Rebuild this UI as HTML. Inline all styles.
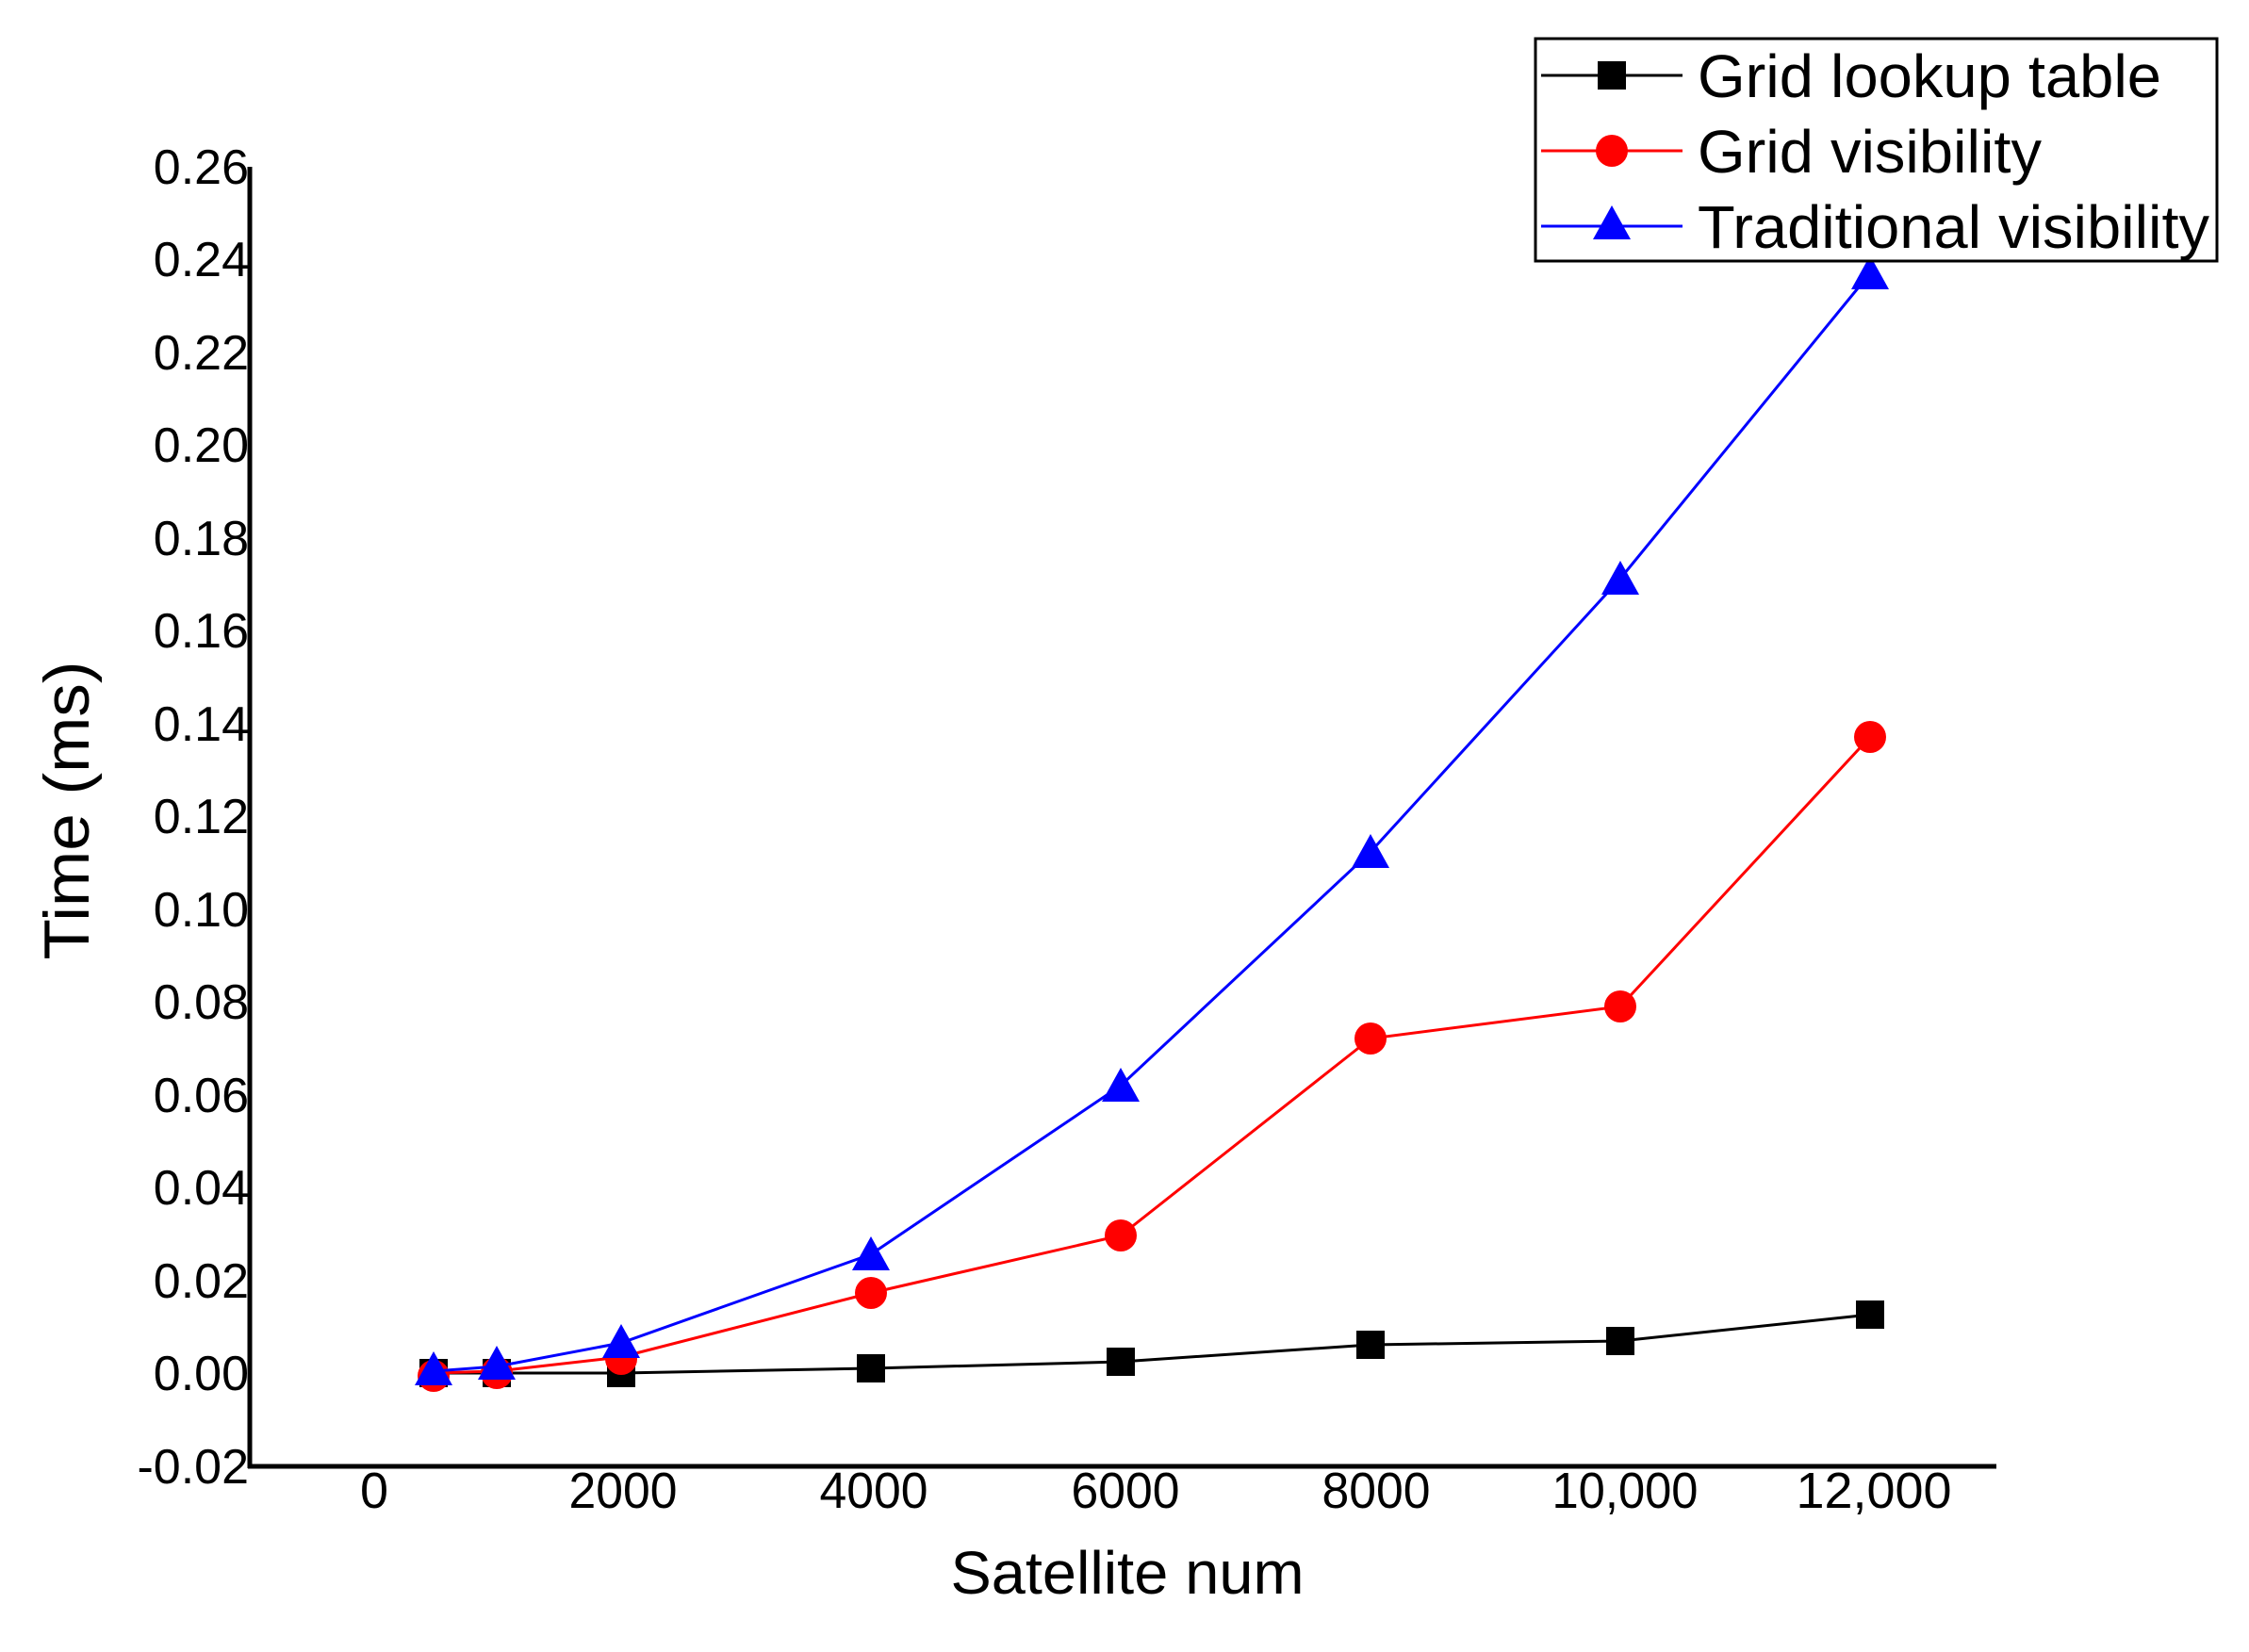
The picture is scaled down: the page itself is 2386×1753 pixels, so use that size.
<!DOCTYPE html>
<html><head><meta charset="utf-8"><style>
html,body{margin:0;padding:0;background:#fff;}
svg{display:block;}
text{font-family:"Liberation Sans",Arial,sans-serif;fill:#000;}
</style></head><body>
<svg width="2386" height="1753" viewBox="0 0 2386 1753" xmlns="http://www.w3.org/2000/svg">
<rect width="2386" height="1753" fill="#fff"/>
<!-- axes -->
<line x1="265" y1="177" x2="265" y2="1558" stroke="#000" stroke-width="5"/>
<line x1="263" y1="1556" x2="2118" y2="1556" stroke="#000" stroke-width="5"/>
<!-- y ticks labels -->
<g font-size="52" text-anchor="end">
<text x="264" y="195">0.26</text>
<text x="264" y="293">0.24</text>
<text x="264" y="392">0.22</text>
<text x="264" y="490">0.20</text>
<text x="264" y="589">0.18</text>
<text x="264" y="687">0.16</text>
<text x="264" y="786">0.14</text>
<text x="264" y="884">0.12</text>
<text x="264" y="983">0.10</text>
<text x="264" y="1081">0.08</text>
<text x="264" y="1180">0.06</text>
<text x="264" y="1278">0.04</text>
<text x="264" y="1377">0.02</text>
<text x="264" y="1475">0.00</text>
<text x="264" y="1574">-0.02</text>
</g>
<!-- x tick labels -->
<g font-size="54" text-anchor="middle">
<text x="397" y="1600">0</text>
<text x="661" y="1600" textLength="115" lengthAdjust="spacingAndGlyphs">2000</text>
<text x="927" y="1600" textLength="115" lengthAdjust="spacingAndGlyphs">4000</text>
<text x="1194" y="1600" textLength="115" lengthAdjust="spacingAndGlyphs">6000</text>
<text x="1460" y="1600" textLength="115" lengthAdjust="spacingAndGlyphs">8000</text>
<text x="1724" y="1600" textLength="155" lengthAdjust="spacingAndGlyphs">10,000</text>
<text x="1988" y="1600" textLength="165" lengthAdjust="spacingAndGlyphs">12,000</text>
</g>
<text x="1196" y="1691" font-size="64" text-anchor="middle" textLength="375" lengthAdjust="spacingAndGlyphs">Satellite num</text>
<text transform="translate(94,860) rotate(-90)" font-size="68" text-anchor="middle" textLength="317" lengthAdjust="spacingAndGlyphs">Time (ms)</text>
<!-- series -->
<polyline fill="none" stroke="#000" stroke-width="3" points="460,1457 527,1457 659,1457 924,1452 1189,1445 1454,1427 1719,1423 1984,1395"/>
<g fill="#000">
<rect x="445" y="1442" width="30" height="30"/>
<rect x="512" y="1442" width="30" height="30"/>
<rect x="644" y="1442" width="30" height="30"/>
<rect x="909" y="1437" width="30" height="30"/>
<rect x="1174" y="1430" width="30" height="30"/>
<rect x="1439" y="1412" width="30" height="30"/>
<rect x="1704" y="1408" width="30" height="30"/>
<rect x="1969" y="1380" width="30" height="30"/>
</g>
<polyline fill="none" stroke="#f00" stroke-width="3" points="460,1457 527,1455 659,1440 924,1372 1189,1311 1454,1102 1719,1068 1984,782"/>
<g fill="#f00">
<circle cx="460" cy="1460" r="17"/>
<circle cx="527" cy="1457" r="17"/>
<circle cx="659" cy="1442" r="17"/>
<circle cx="924" cy="1372" r="17"/>
<circle cx="1189" cy="1311" r="17"/>
<circle cx="1454" cy="1102" r="17"/>
<circle cx="1719" cy="1068" r="17"/>
<circle cx="1984" cy="782" r="17"/>
</g>
<polyline fill="none" stroke="#00f" stroke-width="3" points="460,1455 527,1450 659,1425 924,1331 1189,1152 1454,904 1719,614 1984,290"/>
<g fill="#00f">
<polygon points="460,1434 480,1470 440,1470"/>
<polygon points="527,1428 547,1464 507,1464"/>
<polygon points="659,1405 679,1441 639,1441"/>
<polygon points="924,1312 944,1348 904,1348"/>
<polygon points="1189,1133 1209,1169 1169,1169"/>
<polygon points="1454,885 1474,921 1434,921"/>
<polygon points="1719,595 1739,631 1699,631"/>
<polygon points="1984,271 2004,307 1964,307"/>
</g>
<!-- legend -->
<rect x="1629" y="41" width="723" height="236" fill="#fff" stroke="#000" stroke-width="3"/>
<line x1="1635" y1="80" x2="1785" y2="80" stroke="#000" stroke-width="3"/>
<rect x="1695" y="65" width="30" height="30" fill="#000"/>
<line x1="1635" y1="160" x2="1785" y2="160" stroke="#f00" stroke-width="3"/>
<circle cx="1710" cy="160" r="17" fill="#f00"/>
<line x1="1635" y1="240" x2="1785" y2="240" stroke="#00f" stroke-width="3"/>
<polygon points="1710,218 1730,254 1690,254" fill="#00f"/>
<g font-size="64">
<text x="1801" y="103" textLength="492" lengthAdjust="spacingAndGlyphs">Grid lookup table</text>
<text x="1801" y="183" textLength="365" lengthAdjust="spacingAndGlyphs">Grid visibility</text>
<text x="1801" y="263" textLength="543" lengthAdjust="spacingAndGlyphs">Traditional visibility</text>
</g>
</svg>
</body></html>
